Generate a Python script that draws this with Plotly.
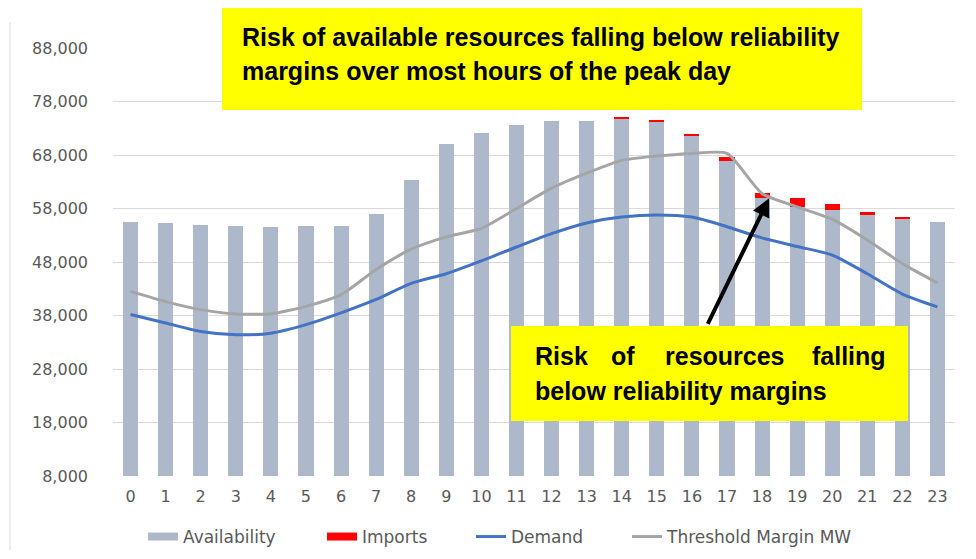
import plotly.graph_objects as go

horas = list(range(24))

disponibilidad = [55400, 55200, 55000, 54800, 54600, 54700, 54700, 57000,
                  63300, 70000, 72200, 73700, 74300, 74300, 74800, 74200,
                  71600, 66800, 59900, 58200, 57700, 56800, 56100, 55400]

importaciones = [0, 0, 0, 0, 0, 0, 0, 0,
                 0, 0, 0, 0, 0, 0, 300, 350,
                 300, 850, 1000, 1800, 1050, 550, 300, 0]

demanda = [38200, 36600, 35000, 34400, 34700, 36300, 38500, 41000,
           44000, 45800, 48200, 50800, 53300, 55300, 56400, 56800,
           56400, 54600, 52500, 50900, 49300, 45800, 42000, 39600]

umbral = [42500, 40600, 39100, 38300, 38300, 39700, 41900, 46600,
          50400, 52700, 54300, 58000, 61800, 64600, 67000, 67800,
          68300, 68300, 60800, 58300, 56000, 52100, 47700, 44100]

ticks_y = [8000, 18000, 28000, 38000, 48000, 58000, 68000, 78000, 88000]

# el body de la pagina deja 8 px de margen alrededor de la figura
DESPLAZ = 8
ANCHO, ALTO = 976 - DESPLAZ, 559 - 2 * DESPLAZ

# zona de trazado en pixeles de la ventana
IZQ, DER, ARR, ABA = 113, 955, 48, 476


def px_x(x):
    return (x - IZQ) / (DER - IZQ)


def px_y(y):
    return (ABA - y) / (ABA - ARR)


gris_barra = "#ADB9CA"
rojo = "#FF0000"
azul = "#4472C4"
gris_linea = "#A5A5A5"

fig = go.Figure()

fig.add_trace(
    go.Bar(
        name="Availability",
        x=horas,
        y=disponibilidad,
        marker_color=gris_barra,
        marker_line_width=0,
        showlegend=False
    )
)

fig.add_trace(
    go.Bar(
        name="Imports",
        x=horas,
        y=importaciones,
        marker_color=rojo,
        marker_line_width=0,
        showlegend=False
    )
)

# entradas de leyenda con muestra ancha para las barras
fig.add_trace(
    go.Scatter(
        name="Availability", x=[None], y=[None], mode="lines",
        line=dict(color=gris_barra, width=8), legend="legend"
    )
)
fig.add_trace(
    go.Scatter(
        name="Imports", x=[None], y=[None], mode="lines",
        line=dict(color=rojo, width=8), legend="legend2"
    )
)

fig.add_trace(
    go.Scatter(
        name="Demand",
        x=horas,
        y=demanda,
        mode="lines",
        line=dict(color=azul, width=3, shape="spline", smoothing=0.7),
        legend="legend3"
    )
)

fig.add_trace(
    go.Scatter(
        name="Threshold Margin MW",
        x=horas,
        y=umbral,
        mode="lines",
        line=dict(color=gris_linea, width=3, shape="spline", smoothing=0.6),
        legend="legend4"
    )
)


def leyenda(x):
    return dict(
        orientation="h",
        x=px_x(x),
        y=px_y(537),
        xanchor="left",
        yanchor="middle",
        font=dict(size=17, color="#595959"),
        bgcolor="rgba(0,0,0,0)"
    )


amarillo = "#FFFF00"
fuente_negrita = "Liberation Sans, Arial"

formas = [
    # borde del area del grafico
    dict(type="line", xref="paper", yref="paper",
         x0=px_x(10), x1=px_x(10), y0=px_y(22), y1=px_y(550),
         line=dict(color="#D9D9D9", width=1)),
    # cajas amarillas
    dict(type="rect", xref="paper", yref="paper", layer="above",
         x0=px_x(222), x1=px_x(862), y0=px_y(110), y1=px_y(8),
         fillcolor=amarillo, line_width=0),
    dict(type="rect", xref="paper", yref="paper", layer="above",
         x0=px_x(511), x1=px_x(908), y0=px_y(421), y1=px_y(326),
         fillcolor=amarillo, line_width=0),
]

textos = []


def texto(t, x, y, anchor="left"):
    textos.append(dict(
        text="<b>" + t + "</b>", xref="paper", yref="paper",
        x=px_x(x), y=px_y(y), xanchor=anchor, yanchor="middle",
        showarrow=False,
        font=dict(family=fuente_negrita, size=25, color="#000000")
    ))


texto("Risk of available resources falling below reliability", 240, 37)
texto("margins over most hours of the peak day", 240, 71)

texto("Risk", 533, 356)
texto("of", 623, 356, "center")
texto("resources", 725, 356, "center")
texto("falling", 888, 356, "right")
texto("below reliability margins", 533, 391)

# flecha hacia la hora 18
textos.append(dict(
    x=18.2, y=59900, xref="x", yref="y",
    ax=-62, ay=127, axref="pixel", ayref="pixel",
    showarrow=True, arrowhead=2, arrowsize=0.9, arrowwidth=4,
    arrowcolor="#000000", text=""
))

fig.update_layout(
    barmode="stack",
    bargap=0.57,
    width=ANCHO,
    height=ALTO,
    plot_bgcolor="white",
    paper_bgcolor="white",
    font=dict(family="DejaVu Sans", size=16, color="#595959"),
    margin=dict(l=IZQ - DESPLAZ, r=976 - DER, t=ARR - DESPLAZ,
                b=ALTO + DESPLAZ - ABA, autoexpand=False),
    xaxis=dict(
        range=[-0.5, 23.5],
        tickmode="array",
        tickvals=horas,
        ticktext=[str(h) for h in horas],
        showgrid=False,
        showline=False,
        ticks="",
        ticklabelstandoff=9
    ),
    yaxis=dict(
        range=[8000, 88000],
        tickmode="array",
        tickvals=ticks_y,
        ticktext=[f"{v:,}" for v in ticks_y],
        showgrid=True,
        gridcolor="#D9D9D9",
        gridwidth=1,
        zeroline=False,
        showline=False,
        ticks="",
        ticklabelstandoff=24
    ),
    legend=leyenda(143),
    legend2=leyenda(322),
    legend3=leyenda(471),
    legend4=leyenda(627),
    shapes=formas,
    annotations=textos
)

fig.write_html("out.html")
